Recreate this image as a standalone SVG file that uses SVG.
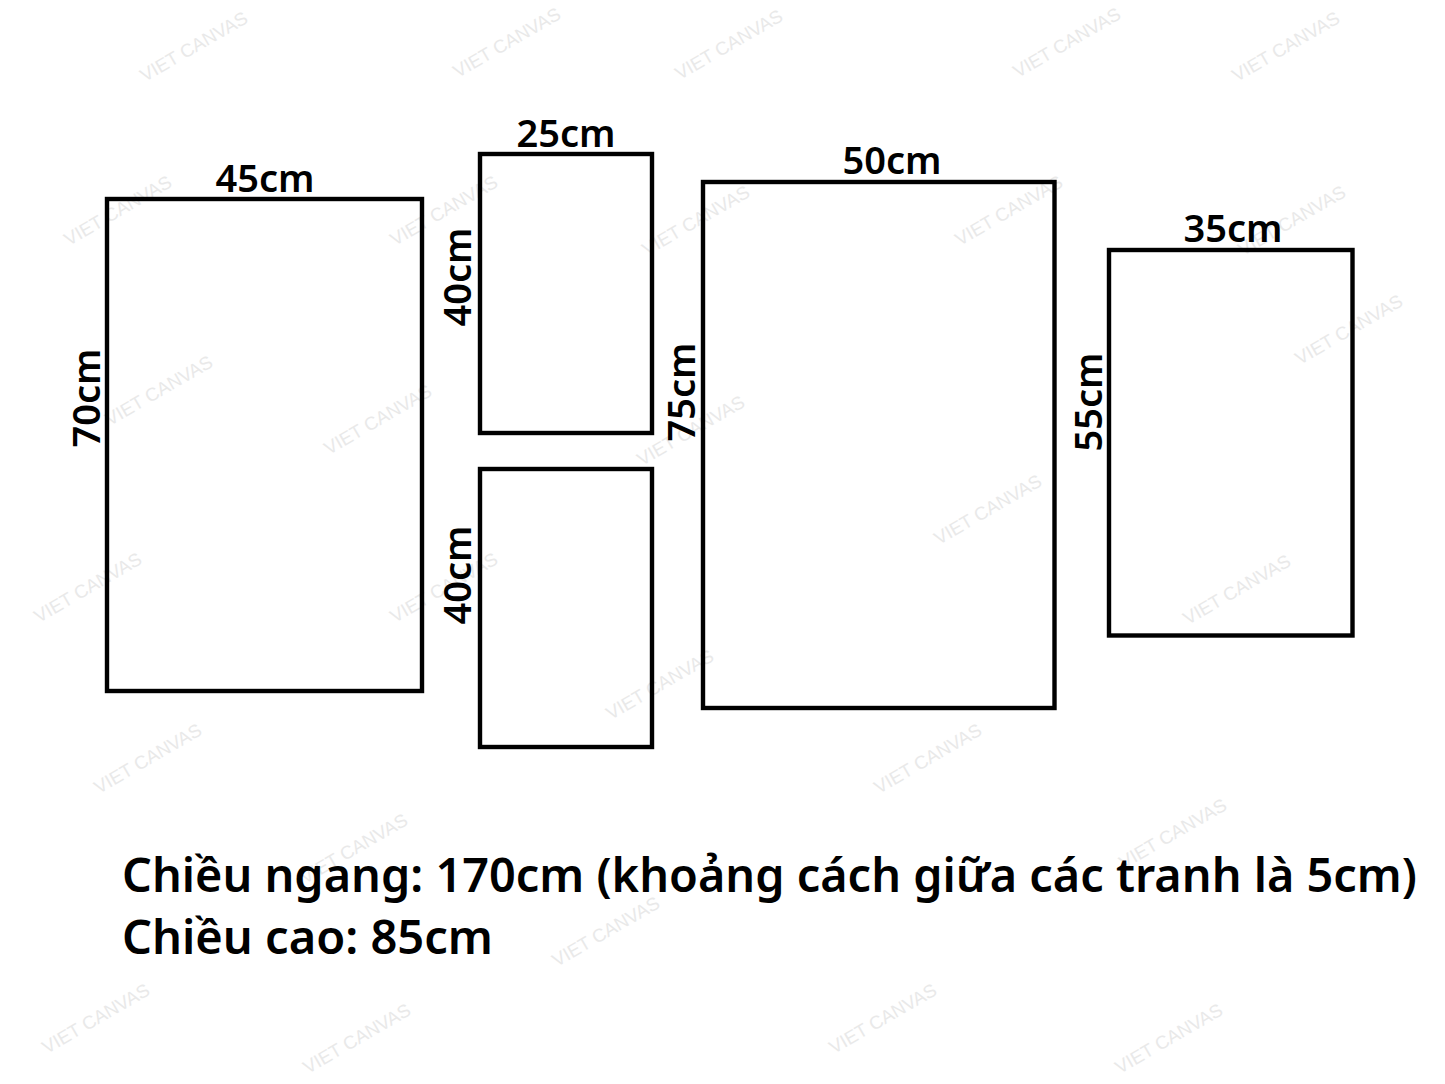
<svg xmlns="http://www.w3.org/2000/svg" width="1445" height="1084" viewBox="0 0 1445 1084">
<style>
.frame{fill:none;stroke:#000;stroke-width:4.4}
.lbl{font-family:"Noto Sans","Open Sans",sans-serif;font-size:38px;font-weight:600;fill:#000;text-anchor:middle}
.note{font-family:"Noto Sans","Open Sans",sans-serif;font-size:47px;font-weight:600;fill:#000}
.wm{font-family:"Liberation Sans",Arial,sans-serif;font-size:18.5px;fill:#e9e9e9;text-anchor:middle}
</style>
<rect width="1445" height="1084" fill="#fff"/>
<g id="watermarks">
<text class="wm" transform="translate(197,52) rotate(-30)">VIET CANVAS</text>
<text class="wm" transform="translate(510,48) rotate(-30)">VIET CANVAS</text>
<text class="wm" transform="translate(732,50) rotate(-30)">VIET CANVAS</text>
<text class="wm" transform="translate(1070,48) rotate(-30)">VIET CANVAS</text>
<text class="wm" transform="translate(1289,52) rotate(-30)">VIET CANVAS</text>
<text class="wm" transform="translate(121,216) rotate(-30)">VIET CANVAS</text>
<text class="wm" transform="translate(447,216) rotate(-30)">VIET CANVAS</text>
<text class="wm" transform="translate(699,226) rotate(-30)">VIET CANVAS</text>
<text class="wm" transform="translate(1012,216) rotate(-30)">VIET CANVAS</text>
<text class="wm" transform="translate(1295,226) rotate(-30)">VIET CANVAS</text>
<text class="wm" transform="translate(1352,335) rotate(-30)">VIET CANVAS</text>
<text class="wm" transform="translate(162,396) rotate(-30)">VIET CANVAS</text>
<text class="wm" transform="translate(381,425) rotate(-30)">VIET CANVAS</text>
<text class="wm" transform="translate(694,436) rotate(-30)">VIET CANVAS</text>
<text class="wm" transform="translate(991,515) rotate(-30)">VIET CANVAS</text>
<text class="wm" transform="translate(91,593) rotate(-30)">VIET CANVAS</text>
<text class="wm" transform="translate(447,593) rotate(-30)">VIET CANVAS</text>
<text class="wm" transform="translate(1240,595) rotate(-30)">VIET CANVAS</text>
<text class="wm" transform="translate(663,690) rotate(-30)">VIET CANVAS</text>
<text class="wm" transform="translate(151,764) rotate(-30)">VIET CANVAS</text>
<text class="wm" transform="translate(931,764) rotate(-30)">VIET CANVAS</text>
<text class="wm" transform="translate(357,854) rotate(-30)">VIET CANVAS</text>
<text class="wm" transform="translate(1176,839) rotate(-30)">VIET CANVAS</text>
<text class="wm" transform="translate(609,937) rotate(-30)">VIET CANVAS</text>
<text class="wm" transform="translate(99,1024) rotate(-30)">VIET CANVAS</text>
<text class="wm" transform="translate(886,1024) rotate(-30)">VIET CANVAS</text>
<text class="wm" transform="translate(1172,1044) rotate(-30)">VIET CANVAS</text>
<text class="wm" transform="translate(360,1044) rotate(-30)">VIET CANVAS</text>
</g>
<g id="panel-45x70">
<rect class="frame" x="107" y="199" width="315" height="492"/>
<text class="lbl" x="265" y="192">45cm</text>
<text class="lbl" transform="translate(100,398) rotate(-90)">70cm</text>
</g>
<g id="panel-25x40-top">
<rect class="frame" x="480" y="154" width="172" height="279"/>
<text class="lbl" x="566" y="147">25cm</text>
<text class="lbl" transform="translate(471,277) rotate(-90)">40cm</text>
</g>
<g id="panel-25x40-bottom">
<rect class="frame" x="480" y="469" width="172" height="278"/>
<text class="lbl" transform="translate(471,575) rotate(-90)">40cm</text>
</g>
<g id="panel-50x75">
<rect class="frame" x="703" y="182" width="351.5" height="526"/>
<text class="lbl" x="892" y="174">50cm</text>
<text class="lbl" transform="translate(695,392) rotate(-90)">75cm</text>
</g>
<g id="panel-35x55">
<rect class="frame" x="1109" y="250" width="243.5" height="385.5"/>
<text class="lbl" x="1233" y="242">35cm</text>
<text class="lbl" transform="translate(1102,402) rotate(-90)">55cm</text>
</g>
<g id="connectors"></g>
<g id="notes">
<text class="note" x="122" y="892" textLength="1295" lengthAdjust="spacingAndGlyphs">Chiều ngang: 170cm (khoảng cách giữa các tranh là 5cm)</text>
<text class="note" x="122" y="954" textLength="371" lengthAdjust="spacingAndGlyphs">Chiều cao: 85cm</text>
</g>
</svg>
